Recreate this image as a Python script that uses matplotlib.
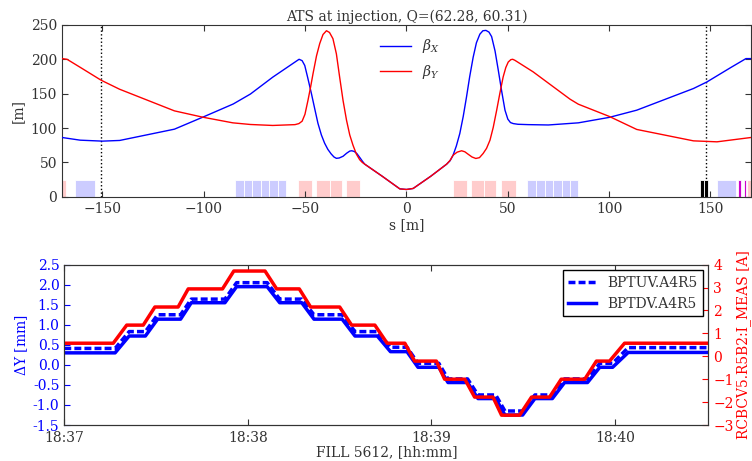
import datetime as dt

import matplotlib
matplotlib.use('Agg')
import matplotlib.pyplot as plt
import matplotlib.dates as mdates
import numpy as np

plt.rcParams['font.family'] = 'serif'
plt.rcParams['font.serif'] = ['DejaVu Serif']
plt.rcParams['mathtext.fontset'] = 'dejavuserif'
plt.rcParams['font.size'] = 10
plt.rcParams['text.color'] = '#333333'
plt.rcParams['axes.labelcolor'] = '#333333'
plt.rcParams['axes.edgecolor'] = '#333333'
plt.rcParams['xtick.color'] = '#333333'
plt.rcParams['ytick.color'] = '#333333'
plt.rcParams['xtick.direction'] = 'in'
plt.rcParams['ytick.direction'] = 'in'
plt.rcParams['xtick.major.size'] = 4
plt.rcParams['ytick.major.size'] = 4
plt.rcParams['axes.unicode_minus'] = True

# ---- optics (top panel) ----
s_bx = [-170, -161, -150, -141.5, -114.5, -100, -85.5, -77, -66, -55, -53, -51.5,
        -50.2, -48.8, -46.9, -45.2, -43.7, -42, -40.4, -38.8, -37.2, -35.8, -34.6,
        -33.2, -31.3, -29.5, -28, -27, -25.8, -24.5, -23, -21.8, -20.6, -12,
        -3.3, 0, 3.3, 12, 19.8, 21.5, 23, 24.6, 26.3, 28, 29.6, 31.2, 32.9, 34.5,
        36.2, 37.7, 39.2, 40.7, 42, 43.7, 45.3, 47, 48.6, 50, 51.3, 52.7, 55,
        60, 70, 84.8, 100, 113.6, 141.6, 148.2, 160, 167.5, 170]
beta_x = [86.3, 82.4, 81, 82, 98.4, 116.5, 135, 149.5, 174, 196, 200, 198,
          191, 174, 150, 127, 107, 90, 78, 69, 62.5, 58, 56,
          56.5, 59, 63.5, 66.5, 67, 66, 63, 57, 52, 47.5, 30,
          11.6, 10.7, 12.2, 30, 47.5, 52.5, 60.6, 74, 92, 117, 145, 175, 203, 224,
          236.5, 241.5, 242, 239.5, 233, 212, 184, 153, 126, 113, 108, 106.5, 105.5,
          105, 104.5, 107.6, 115.5, 126, 157.5, 167, 188, 201, 201]

s_by = [-170, -167.5, -160, -150.7, -141.6, -114.5, -100.5, -85.7, -77, -66, -55,
        -53.1, -51.5, -50.1, -48.6, -47.3, -46.1, -44.4, -42.8, -41.2, -39.5,
        -38, -36.3, -34.6, -33, -31.3, -29.6, -28, -26.4, -24.7, -23.1, -21.8,
        -20.6, -12, -3.3, 0, 3.3, 12, 19.8, 21.5, 23, 25, 27.2, 28.8, 30.4, 32.3,
        34.2, 36, 37.8, 39.5, 41.2, 42.8, 44.5, 46.1, 47.7, 49, 50.2, 51.5, 52.4,
        53.5, 62.5, 80.7, 84.8, 100, 113.6, 141.6, 153.2, 170]
beta_y = [201, 200, 186.5, 169.6, 156.5, 125, 115.8, 107.6, 105.2, 103.8, 105,
          106.5, 110, 120, 140.5, 160, 179.4, 205, 223, 236, 241.5,
          239, 230, 208, 174.4, 140, 111.5, 90, 75.1, 62, 54, 50,
          47.5, 30, 11.6, 10.7, 12.2, 30, 47.5, 53, 60.6, 65, 67, 65.5, 62, 58,
          55.8, 57, 63, 70.5, 82.4, 101, 126, 151, 174.4, 188, 196, 199.5, 200,
          198.5, 181.7, 142, 134.7, 117, 98, 81.4, 80, 86.3]

# magnet blocks: start, end, colour
elem_start = [-172, -163.4, -84.6, -80.4, -76.2, -72.0, -67.8, -63.6,
              -53.6, -44.6, -37.8, -29.7, 22.8, 31.8, 38.3, 46.5,
              59.7, 63.9, 68.1, 72.3, 76.5, 80.7, 145.0, 147.0, 153.2,
              163.8, 166.3, 168.0]
elem_end = [-167.8, -153.5, -80.4, -76.2, -72.0, -67.8, -63.6, -59.4,
            -46.4, -37.8, -31.8, -22.8, 29.7, 38.3, 44.2, 53.8,
            63.9, 68.1, 72.3, 76.5, 80.7, 84.8, 146.6, 148.6, 162.7,
            165.2, 167.5, 172]
elem_kind = ['r', 'b', 'b', 'b', 'b', 'b', 'b', 'b',
             'r', 'r', 'r', 'r', 'r', 'r', 'r', 'r',
             'b', 'b', 'b', 'b', 'b', 'b', 'k', 'k', 'b',
             'm', 'm', 'r']
elem_colors = {'r': '#ffcccc', 'b': '#ccccff', 'k': 'black', 'm': '#cc00cc'}
ip_markers = [-150.7, 147.7]

# ---- measurement (bottom panel) ----
t0 = dt.datetime(2017, 5, 1, 18, 37, 0)
t_end = 210.5
red_levels = [0.57, 1.36, 2.15, 2.94, 3.72, 2.94, 2.15, 1.36, 0.57, -0.21,
              -1.0, -1.78, -2.57, -1.78, -1.0, -0.21, 0.57]
red_ramp_start = [16.0, 25.8, 37.2, 51.7, 65.6, 76.8, 90.0, 101.5, 111.3,
                  121.6, 130.9, 140.1, 148.8, 158.6, 170.1, 178.2]
red_ramp_end = [20.4, 29.6, 40.5, 55.4, 69.4, 80.5, 93.9, 105.5, 114.5,
                124.3, 134.1, 142.9, 152.7, 162.4, 173.9, 183.1]
bpm_ramp_start = [16.6, 26.5, 38.0, 52.5, 66.3, 77.6, 90.8, 102.3, 112.0,
                  122.4, 131.8, 141.0, 149.8, 159.5, 171.0, 179.2]
bpm_ramp_end = [21.2, 30.5, 41.5, 56.3, 70.4, 81.6, 95.0, 106.6, 115.6,
                125.4, 135.2, 144.0, 153.8, 163.5, 175.0, 184.3]
bptd_levels = [0.30, 0.72, 1.14, 1.55, 1.95, 1.55, 1.14, 0.72, 0.33, -0.06,
               -0.44, -0.84, -1.25, -0.84, -0.44, -0.06, 0.31]
bptu_levels = [0.41, 0.83, 1.25, 1.64, 2.05, 1.64, 1.25, 0.83, 0.44, 0.04,
               -0.35, -0.75, -1.15, -0.75, -0.35, 0.04, 0.43]


def step_series(starts, ends, levels):
    # plateau -> ramp -> plateau ...
    tt = [0.0]
    yy = [levels[0]]
    for i in range(len(starts)):
        tt += [starts[i], ends[i]]
        yy += [levels[i], levels[i + 1]]
    tt.append(t_end)
    yy.append(levels[-1])
    times = [t0 + dt.timedelta(seconds=v) for v in tt]
    return times, yy


fig = plt.figure(figsize=(7.52, 4.61), dpi=100)

# top panel
ax = fig.add_axes([0.0824, 0.573, 0.9163, 0.373])
for a, b, k in zip(elem_start, elem_end, elem_kind):
    ax.bar(a, 25, width=b - a, align='edge', color=elem_colors[k],
           edgecolor='white', linewidth=0.6, zorder=1)
for xm in ip_markers:
    ax.axvline(xm, color='black', linestyle=':', linewidth=1, zorder=2)
ax.plot(s_bx, beta_x, color='blue', linewidth=1, label=r'$\beta_X$', zorder=3)
ax.plot(s_by, beta_y, color='red', linewidth=1, label=r'$\beta_Y$', zorder=3)
ax.set_xlim(-170, 170)
ax.set_ylim(0, 250)
ax.set_xticks([-150, -100, -50, 0, 50, 100, 150])
ax.set_yticks([0, 50, 100, 150, 200, 250])
ax.tick_params(top=True, right=True)
ax.set_xlabel('s [m]', labelpad=2)
ax.set_ylabel('[m]', labelpad=4)
ax.set_title('ATS at injection, Q=(62.28, 60.31)', fontsize=10, pad=3)
ax.legend(loc='upper center', frameon=False, fontsize=10, handlelength=2.2,
          labelspacing=0.55, bbox_to_anchor=(0.505, 1.0))

# bottom panel
ax1 = fig.add_axes([0.0855, 0.078, 0.8565, 0.348])
ax2 = ax1.twinx()

tu, yu = step_series(bpm_ramp_start, bpm_ramp_end, bptu_levels)
td, yd = step_series(bpm_ramp_start, bpm_ramp_end, bptd_levels)
tr, yr = step_series(red_ramp_start, red_ramp_end, red_levels)

l1, = ax1.plot(tu, yu, color='blue', linewidth=2.5, dashes=(2, 0.9),
               label='BPTUV.A4R5')
l2, = ax1.plot(td, yd, color='blue', linewidth=2.5, label='BPTDV.A4R5')
ax2.plot(tr, yr, color='red', linewidth=2.5)

ax1.set_xlim(t0, t0 + dt.timedelta(seconds=t_end))
ax1.set_ylim(-1.5, 2.5)
ax1.set_yticks(np.arange(-1.5, 2.51, 0.5))
ax1.yaxis.set_major_formatter(plt.FormatStrFormatter('%.1f'))
ax2.set_ylim(-3, 4)
ax2.set_yticks(range(-3, 5))
ax1.xaxis.set_major_locator(mdates.MinuteLocator())
ax1.xaxis.set_major_formatter(mdates.DateFormatter('%H:%M'))
ax1.tick_params(axis='x', top=True, pad=4.5)
ax1.tick_params(axis='y', colors='blue')
ax2.tick_params(axis='y', colors='red')
ax1.set_ylabel(r'$\Delta$Y [mm]', color='blue', labelpad=2)
ax2.set_ylabel('RCBCV5.R5B2:I_MEAS [A]', color='red', labelpad=2)
ax1.set_xlabel('FILL 5612, [hh:mm]', labelpad=0)

leg = ax2.legend([l1, l2], ['BPTUV.A4R5', 'BPTDV.A4R5'], loc='upper right',
                 fontsize=10, fancybox=False, framealpha=1, borderaxespad=0.4)
leg.get_frame().set_edgecolor('black')
leg.get_frame().set_linewidth(1)

fig.savefig('out.png', dpi=100)
